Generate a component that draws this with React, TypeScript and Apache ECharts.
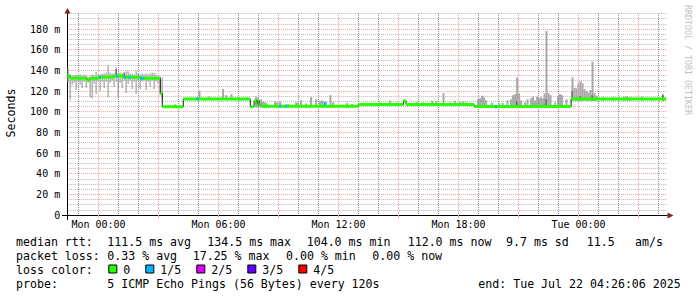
import React, { useEffect, useRef } from "react";
import * as echarts from "echarts";

// ---- axes (hours relative to Mon 00:00) ----
const X_MIN = -1.565; // Sun 22:26:06
const X_MAX = 28.435; // Tue 04:26:06
const Y_MAX = 195;
const SMOKE_STEP = 0.1;

const xLabelHours = [0, 6, 12, 18, 24];
const xLabelTexts = ["Mon 00:00", "Mon 06:00", "Mon 12:00", "Mon 18:00", "Tue 00:00"];
const xMajorHours = [0, 3, 6, 9, 12, 15, 18, 21, 24, 27];
const xGridHours = [-1, 0, 1, 2, 3, 4, 5, 6, 7, 8, 9, 10, 11, 12, 13, 14, 15, 16, 17, 18, 19, 20, 21, 22, 23, 24, 25, 26, 27, 28];
const yLabelValues = [0, 20, 40, 60, 80, 100, 120, 140, 160, 180];
const yLabelTexts = ["0", "20 m", "40 m", "60 m", "80 m", "100 m", "120 m", "140 m", "160 m", "180 m"];

// ---- median rtt (ms): [startHour, endHour, value] ----
const medianSegments: [number, number, number][] = [
  [-1.565, -1.43, 134.8],
  [-1.43, -0.58, 132.5],
  [-0.58, -0.43, 130.6],
  [-0.43, 0.01, 132.3],
  [0.01, 0.76, 133.5],
  [0.76, 1.26, 134.5],
  [1.26, 2.09, 133.2],
  [2.09, 3.09, 132.3],
  [3.09, 3.19, 118],
  [3.19, 4.24, 104.8],
  [4.24, 7.59, 112.3],
  [7.59, 7.78, 104.8],
  [7.78, 7.88, 110.5],
  [7.88, 7.95, 108],
  [7.95, 8.03, 111],
  [8.03, 8.16, 106],
  [8.16, 12.99, 105.3],
  [12.99, 15.25, 106.9],
  [15.25, 15.38, 110.5],
  [15.38, 18.78, 106.9],
  [18.78, 23.63, 105.0],
  [23.63, 28.38, 112.3],
];

// ---- median where 1/5 packets were lost ----
const loss1Segments: [number, number, number][] = [
  [0.03, 0.1, 133.5],
  [0.88, 0.95, 134.5],
  [1.3, 1.38, 133.2],
  [1.5, 1.6, 133.2],
  [2.1, 2.25, 132.3],
  [4.9, 5.0, 112.3],
  [9.03, 9.13, 105.3],
  [9.33, 9.43, 105.3],
  [11.25, 11.4, 107.8],
  [19.83, 19.93, 104.6],
];

// ---- smoke, first part (regular 6-minute bins from -1.5 h) ----
const SMOKE_START = -1.5;
const smokeLow = [128, 111, 126, 128, 121, 129, 126, 123, 129, 123, 128, 114, 113, 127, 117, 129, 120, 129, 123, 129, 114, 128, 130, 124, 129, 113, 128, 123, 130, 118, 127, 130, 122, 129, 117, 130, 122, 129, 130, 121, 129, 124, 130, 122, 129, 127, 116, 112];
const smokeHigh = [142, 136, 135, 135, 136, 135, 136, 135, 136, 135, 134, 134, 136, 135, 138.5, 136, 136, 137, 137, 138, 145, 138, 137, 137, 142.5, 137, 138, 137, 137, 139, 139, 137, 137, 136, 139.5, 137, 136, 137, 136, 137, 136, 137, 138, 137.5, 136, 135, 134, 133];

// ---- smoke spikes: [hour, low, high] ----
const smokeSpikes: [number, number, number][] = [
  [3.83, 104, 107], [5.05, 111.5, 120.3], [5.53, 111.5, 114.5], [6.23, 111.5, 122], [6.38, 111.5, 116],
  [6.65, 111.5, 117], [6.98, 111.5, 114], [7.88, 104, 114.5], [7.98, 104, 113], [8.13, 104, 112],
  [8.23, 104, 110], [8.33, 104, 109], [8.43, 104, 108], [8.83, 104, 110], [8.93, 104, 109],
  [9.08, 104, 110], [9.48, 104, 107.5], [9.88, 104, 109], [9.98, 104, 108.5], [10.13, 104, 111],
  [10.38, 104, 108], [10.63, 104, 114], [10.88, 104, 112], [11.08, 104, 110], [11.18, 104, 111],
  [11.33, 104, 110], [11.6, 104, 116], [11.73, 104, 109], [12.43, 104, 108.5], [12.68, 104, 107.5],
  [13.68, 106, 108.5], [14.08, 106, 109], [14.58, 106, 110.6], [14.93, 106, 109], [15.58, 106, 108.5],
  [15.93, 106, 109.5], [16.23, 106, 109], [16.68, 106, 110.5], [16.88, 106, 110], [17.25, 106, 118],
  [17.58, 106, 109], [17.83, 106, 110.5], [18.08, 106, 109.5], [18.23, 106, 110], [18.38, 106, 109],
  [18.98, 104, 112], [19.08, 104, 113], [19.18, 104, 115.5], [19.28, 104, 114], [19.38, 104, 111],
  [19.68, 104, 108.7], [20.03, 104, 108], [20.2, 104, 108.5], [20.45, 104, 111], [20.63, 104, 112],
  [20.73, 104, 116], [20.83, 104, 117], [20.93, 104, 133], [21.03, 104, 117.7], [21.13, 104, 111],
  [21.33, 104, 109], [21.45, 104, 112], [21.63, 104, 113], [21.73, 104, 114.5], [21.83, 104, 111],
  [21.93, 104, 114.5], [22.03, 104, 113], [22.13, 104, 114], [22.23, 104, 113], [22.3, 104, 117.7],
  [22.4, 104, 178], [22.5, 104, 118], [22.6, 104, 116], [22.83, 104, 109], [22.98, 104, 115],
  [23.08, 104, 117], [23.18, 104, 116], [23.4, 104, 112], [23.7, 110.5, 133.2], [23.8, 110.5, 123],
  [23.9, 110.5, 122.5], [24.0, 110.5, 128], [24.1, 110.5, 129.5], [24.2, 110.5, 127.5], [24.3, 110.5, 122],
  [24.4, 110.5, 120], [24.5, 110.5, 118.5], [24.6, 110.5, 121], [24.7, 110.5, 148.5], [24.8, 110.5, 118],
  [24.9, 110.5, 115.5], [25.23, 110.5, 114], [25.73, 110.5, 114], [26.28, 110.5, 114.5], [26.43, 110.5, 115],
  [26.58, 110.5, 114], [27.18, 110.5, 114.5], [27.68, 110.5, 113.5], [28.23, 110.5, 117],
];

// darker smoke cores: [hour, low, high]
const smokeDark: [number, number, number][] = [
  [0.9, 134, 141], [1.3, 134, 138], [20.93, 104, 110], [22.4, 104, 112], [23.7, 110.5, 120],
  [24.1, 110.5, 115], [24.7, 110.5, 116], [28.23, 110.5, 116],
];

// ---- legend texts ----
const statLines: { y: number; items: [number, string][] }[] = [
  {
    y: 241.5,
    items: [
      [16, "median rtt:"], [107.3, "111.5 ms avg"], [207.3, "134.5 ms max"], [306.7, "104.0 ms min"],
      [407.7, "112.0 ms now"], [506, "9.7 ms sd"], [586.7, "11.5"], [635, "am/s"],
    ],
  },
  {
    y: 255.5,
    items: [[16, "packet loss:"], [107.3, "0.33 % avg"], [192.7, "17.25 % max"], [286, "0.00 % min"], [372.3, "0.00 % now"]],
  },
  { y: 269.5, items: [[16, "loss color:"]] },
  {
    y: 283.5,
    items: [[16, "probe:"], [107.3, "5 ICMP Echo Pings (56 Bytes) every 120s"], [478.3, "end: Tue Jul 22 04:26:06 2025"]],
  },
];
const lossNames = ["0", "1/5", "2/5", "3/5", "4/5"];
const lossColors = ["#26ff00", "#00b8ff", "#dd00ff", "#5e00ff", "#ff0000"];
const lossLabelX = [123.3, 160.3, 211.3, 262.3, 313.3];

const MONO = "DejaVu Sans Mono";
const GRID_C = "#bababa";
const VGRID_C = "#8c8c8c";
const MGRID_C = "#eaa4a4";
const ARROW_C = "#801f1f";

export default function App() {
  const ref = useRef<HTMLDivElement>(null);
  useEffect(() => {
    document.body.style.margin = "0";
    const chart = echarts.init(ref.current!, null, { renderer: "svg" });

    const rangeRender = (color: string, frac: number) => (params: any, api: any) => {
      const h = api.value(0);
      const lo = api.value(1);
      const hi = api.value(2);
      const p0 = api.coord([h - SMOKE_STEP / 2, hi]);
      const p1 = api.coord([h - SMOKE_STEP / 2 + SMOKE_STEP * frac, lo]);
      return {
        type: "rect",
        shape: { x: p0[0], y: p0[1], width: p1[0] - p0[0], height: p1[1] - p0[1] },
        style: { fill: color },
      };
    };
    const segRender = (color: string) => (params: any, api: any) => {
      const s = api.value(0);
      const e = api.value(1);
      const v = api.value(2);
      const p0 = api.coord([s, v]);
      const p1 = api.coord([e, v]);
      return {
        type: "rect",
        shape: { x: p0[0], y: p0[1] - 1.5, width: p1[0] - p0[0], height: 3 },
        style: { fill: color },
      };
    };

    const medianLine: [number, number][] = medianSegments.map((s) => [s[0], s[2]]);
    const last = medianSegments[medianSegments.length - 1];
    medianLine.push([last[1], last[2]]);

    const smokeBins = smokeLow.map((lo, i) => [SMOKE_START + i * SMOKE_STEP, lo, smokeHigh[i]]);

    const graphics: any[] = [];
    graphics.push({ type: "line", shape: { x1: 62, y1: 215.5, x2: 67.5, y2: 215.5 }, style: { stroke: "#000", lineWidth: 1 }, z: 50 });
    graphics.push({ type: "line", shape: { x1: 67.5, y1: 215, x2: 67.5, y2: 220 }, style: { stroke: "#000", lineWidth: 1 }, z: 50 });
    graphics.push({ type: "polygon", shape: { points: [[64.5, 13.5], [70.5, 13.5], [67.5, 8]] }, style: { fill: ARROW_C }, z: 50 });
    graphics.push({ type: "polygon", shape: { points: [[667.5, 212.5], [667.5, 218.5], [673.5, 215.5]] }, style: { fill: ARROW_C }, z: 50 });
    graphics.push({
      type: "text", x: 10.5, y: 113, rotation: Math.PI / 2,
      style: { text: "Seconds", font: `11.6px "${MONO}"`, fill: "#000", align: "center", verticalAlign: "middle" },
    });
    graphics.push({
      type: "text", x: 688, y: 60, rotation: -Math.PI / 2,
      style: { text: "RRDTOOL / TOBI OETIKER", font: `8.3px "${MONO}"`, fill: "#c2c2c2", align: "center", verticalAlign: "middle" },
    });
    statLines.forEach((line) => {
      line.items.forEach(([x, t]) => {
        graphics.push({
          type: "text", x, y: line.y,
          style: { text: t, font: `11.6px "${MONO}"`, fill: "#000", align: "left", verticalAlign: "middle" },
        });
      });
    });
    lossNames.forEach((name, i) => {
      const tx = lossLabelX[i];
      graphics.push({
        type: "rect", shape: { x: tx - 14.5, y: 265, width: 8, height: 8 },
        style: { fill: lossColors[i], stroke: "#000", lineWidth: 1 },
      });
      graphics.push({
        type: "text", x: tx, y: 269.5,
        style: { text: name, font: `11.6px "${MONO}"`, fill: "#000", align: "left", verticalAlign: "middle" },
      });
    });

    chart.setOption({
      animation: false,
      backgroundColor: "#ffffff",
      grid: { left: 67.2, right: 29.8, top: 13.5, bottom: 82, containLabel: false, outerBoundsMode: "none" },
      xAxis: {
        type: "value",
        min: X_MIN,
        max: X_MAX,
        splitLine: { show: false },
        axisLine: { show: true, onZero: false, lineStyle: { color: "#000", width: 1 } },
        axisTick: { show: true, customValues: xMajorHours, length: 3, lineStyle: { color: MGRID_C } },
        axisLabel: {
          customValues: xLabelHours,
          formatter: (v: number) => {
            const i = xLabelHours.indexOf(Math.round(v));
            return i >= 0 ? xLabelTexts[i] : "";
          },
          fontFamily: MONO,
          fontSize: 10,
          color: "#000",
          margin: 4,
        },
      },
      yAxis: {
        type: "value",
        min: 0,
        max: Y_MAX,
        interval: 5,
        axisLine: { show: true, onZero: false, lineStyle: { color: "#000", width: 1 } },
        axisTick: { show: false },
        splitLine: {
          show: true,
          lineStyle: { color: [MGRID_C, GRID_C, GRID_C, GRID_C], type: [1, 1], width: 1 },
        },
        axisLabel: {
          customValues: yLabelValues,
          formatter: (v: number) => {
            const i = yLabelValues.indexOf(Math.round(v));
            return i >= 0 ? yLabelTexts[i] : "";
          },
          fontFamily: MONO,
          fontSize: 10,
          color: "#000",
          margin: 7,
        },
      },
      graphic: graphics,
      series: [
        {
          type: "line",
          z: 1,
          silent: true,
          data: [],
          markLine: {
            silent: true,
            symbol: ["none", "none"],
            label: { show: false },
            emphasis: { disabled: true },
            data: xGridHours.map((h) => ({
              xAxis: h,
              lineStyle: {
                color: xMajorHours.indexOf(h) >= 0 ? MGRID_C : VGRID_C,
                type: [1, 1],
                dashOffset: 0.5,
                width: 1,
              },
            })),
          },
        },
        {
          type: "custom", z: 2, silent: true, data: smokeBins, encode: { x: 0, y: [1, 2] },
          renderItem: rangeRender("#a8a8a8", 0.65),
        },
        {
          type: "custom", z: 2, silent: true, data: smokeSpikes, encode: { x: 0, y: [1, 2] },
          renderItem: rangeRender("#a8a8a8", 1),
        },
        {
          type: "custom", z: 3, silent: true, data: smokeDark, encode: { x: 0, y: [1, 2] },
          renderItem: rangeRender("#555555", 0.6),
        },
        {
          type: "line", z: 4, silent: true, data: medianLine, step: "end", symbol: "none",
          lineStyle: { color: "#1a1a1a", width: 1 },
        },
        {
          type: "custom", z: 5, silent: true, data: medianSegments, encode: { x: [0, 1], y: 2 },
          renderItem: segRender(lossColors[0]),
        },
        {
          type: "custom", z: 6, silent: true, data: loss1Segments, encode: { x: [0, 1], y: 2 },
          renderItem: segRender(lossColors[1]),
        },
      ],
    });
    return () => chart.dispose();
  }, []);
  return <div ref={ref} style={{ width: 697, height: 297 }} />;
}
